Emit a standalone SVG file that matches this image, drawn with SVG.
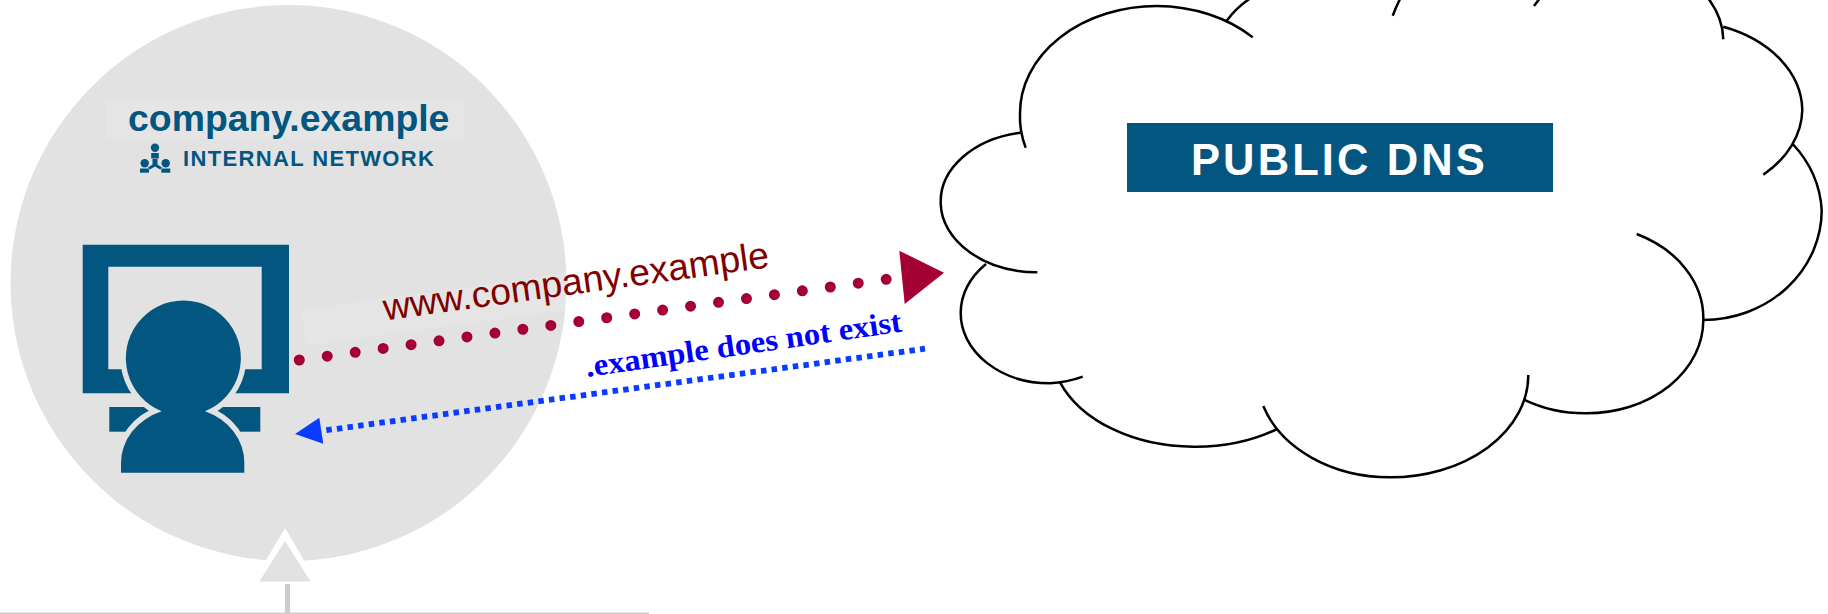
<svg xmlns="http://www.w3.org/2000/svg" width="1828" height="614" viewBox="0 0 1828 614">
<style>
.blue{fill:#02567f}
.sans{font-family:"Liberation Sans",Arial,sans-serif}
.b{font-weight:bold}
.cloud{fill:none;stroke:#000;stroke-width:2.5}
</style>
<rect width="1828" height="614" fill="#fff"/>
<g id="internal-network">
<circle cx="288.5" cy="283" r="278" fill="#e2e2e2"/>
<rect x="106.7" y="100.7" width="356.6" height="37.6" fill="#fff" fill-opacity="0.12"/>
<text class="sans b blue" x="128" y="130.5" font-size="37.4">company.example</text>
<text class="sans b blue" x="183" y="166" font-size="22" letter-spacing="1.36">INTERNAL NETWORK</text>
<g id="network-icon" class="blue">
<circle cx="155" cy="147.7" r="4.2"/><rect x="151.2" y="153" width="7.6" height="5.5"/>
<path d="M152.5 159h5v5.5l4.5 3-1.8 2-5.2-3-5.2 3-1.8-2 4.5-3z"/>
<circle cx="144.7" cy="163.3" r="4.2"/><rect x="140" y="168.5" width="9" height="4.2"/>
<circle cx="165.7" cy="163.3" r="4.2"/><rect x="161.3" y="168.5" width="9" height="4.2"/>
</g>
</g>
<g id="uplink">
<rect x="0" y="612.5" width="649" height="1.5" fill="#ccc"/>
<rect x="285" y="582" width="5" height="31" fill="#ccc"/>
<path d="M285 528 L318 584 H252Z" fill="#fff"/>
<path d="M285 541 L310.7 581.5 H259.3Z" fill="#e2e2e2"/>
</g>
<g id="user-at-monitor">
<path class="blue" fill-rule="evenodd" d="M82.7 244.7H289V393.3H82.7ZM108.3 266.7V369.3H261.7V266.7Z"/>
<rect class="blue" x="109.3" y="407" width="151" height="24.7"/>
<path class="blue" stroke="#e2e2e2" stroke-width="11" paint-order="stroke" d="M121 472.7V463.3A61.7 55 0 0 1 161.7 411.3A57.5 57.5 0 1 1 205 411.3A61.7 55 0 0 1 244.3 463.3V472.7Z"/>
</g>
<g id="connectors">
<polygon points="300.7,310 306,346 781,280 775.7,244" fill="#fff" fill-opacity="0.1"/>
<line x1="299.3" y1="360" x2="886.3" y2="279.3" stroke="#a50034" stroke-width="11" stroke-linecap="round" stroke-dasharray="0 28.21"/>
<polygon points="899.3,250.7 944,272.7 904.7,304" fill="#a50034"/>
<text class="sans" transform="translate(385 320.5) rotate(-7.9)" font-size="37.3" fill="#800000">www.company.example</text>
<line x1="326.3" y1="430.2" x2="925" y2="348.7" stroke="#0a3cff" stroke-width="5.8" stroke-dasharray="5.5 5.2"/>
<polygon points="295,434 319.3,417.7 323.3,443.7" fill="#0a3cff"/>
<text transform="translate(587 377) rotate(-8.2)" font-family="'Liberation Serif','Times New Roman',serif" font-weight="bold" font-size="31" fill="#0000ff" textLength="319" lengthAdjust="spacingAndGlyphs">.example does not exist</text>
</g>
<g id="public-dns">
<g id="cloud" class="cloud">
<path d="M1025.7 147.7A137 107 0 0 1 1020 113.3A137 107 0 0 1 1157 6A137 107 0 0 1 1252.7 37.3"/>
<path d="M1226.7 20.7Q1236 8 1249.3 -1"/>
<path d="M1392.7 15.7Q1396 7 1400 -1"/>
<path d="M1534 6Q1537 2 1539.3 -1"/>
<path d="M1723.3 39.3Q1723 18 1708 -2"/>
<path d="M1723.3 26.7A122 90 0 0 1 1802.3 110A122 90 0 0 1 1763.3 174.7"/>
<path d="M1792.7 144A118.5 110 0 0 1 1821.7 210A118.5 110 0 0 1 1703.3 320"/>
<path d="M1636.7 234A116.6 93 0 0 1 1703.3 320A116.6 93 0 0 1 1586.7 413.3A116.6 93 0 0 1 1523.3 399.3"/>
<path d="M1528.3 375A138 102 0 0 1 1390 477.3A133 102 0 0 1 1263.3 406"/>
<path d="M1277.3 429A143 100 0 0 1 1193.3 446.7A143 100 0 0 1 1060 382.3"/>
<path d="M1082.7 376.7A89 70 0 0 1 1050 383.3A89 70 0 0 1 960.7 313.3A89 70 0 0 1 986 264"/>
<path d="M1037.3 272.3A97 70 0 0 1 940.7 203.3A97 70 0 0 1 1020.7 132.7"/>
</g>
<rect x="1127" y="123" width="426" height="69" fill="#02567f"/>
<text class="sans b" x="1191" y="174.7" font-size="43.5" letter-spacing="3.1" fill="#fff">PUBLIC DNS</text>
</g>
</svg>
